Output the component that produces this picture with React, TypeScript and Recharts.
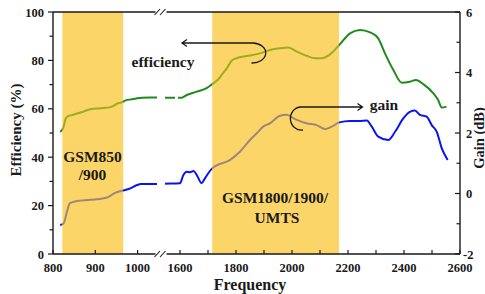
import { LineChart, Line, XAxis, YAxis, ReferenceArea } from 'recharts';

// measured efficiency (%) vs frequency (MHz)
const effFreq = [
  817, 824, 830, 836, 845, 871, 888, 912, 936, 944, 952, 962, 972, 985, 997, 1010, 1030, 1050,
  1540, 1606, 1624, 1660, 1695, 1715, 1737, 1752, 1767, 1785, 1802, 1838, 1874, 1886, 1921, 1957,
  1987, 2017, 2052, 2082, 2106, 2136, 2169, 2207, 2243, 2279, 2308, 2332, 2362, 2392, 2421, 2443,
  2469, 2505, 2522, 2535, 2552,
];
const effValues = [
  50.5, 52, 56, 57, 57.4, 58.8, 59.8, 60.2, 60.7, 61.3, 62.2, 62.6, 63.5, 63.9, 64.3, 64.6, 64.7, 64.7,
  64.6, 64.6, 65.7, 67.1, 68.5, 70.2, 72.2, 74.5, 76.7, 80.0, 80.9, 81.8, 82.6, 82.9, 84.3, 85.0,
  85.3, 83.6, 81.9, 80.9, 80.9, 82.5, 86.4, 91.2, 92.6, 91.6, 89.1, 82.9, 76.0, 70.8, 71.2, 71.9,
  70.2, 66.4, 63.6, 60.5, 60.9,
];

// measured gain (dB) vs frequency (MHz)
const gainFreq = [
  817, 825, 833, 840, 856, 888, 920, 931, 948, 963, 979, 999, 1007, 1050,
  1540, 1600, 1612, 1624, 1636, 1648, 1660, 1677, 1689, 1701, 1715, 1779, 1814, 1850, 1874, 1897,
  1921, 1957, 1981, 2011, 2052, 2088, 2118, 2142, 2169, 2207, 2243, 2267, 2285, 2308, 2344, 2368,
  2398, 2421, 2439, 2457, 2481, 2499, 2517, 2535, 2556,
];
const gainValues = [
  -1.04, -0.99, -0.6, -0.32, -0.25, -0.21, -0.16, -0.11, 0.03, 0.09, 0.15, 0.28, 0.31, 0.31,
  0.32, 0.34, 0.61, 0.72, 0.7, 0.74, 0.61, 0.34, 0.5, 0.67, 0.83, 1.11, 1.38, 1.77, 1.99, 2.21,
  2.32, 2.57, 2.6, 2.46, 2.32, 2.26, 2.13, 2.21, 2.35, 2.4, 2.4, 2.41, 2.21, 1.88, 1.77, 2.04,
  2.49, 2.7, 2.74, 2.6, 2.54, 2.26, 2.04, 1.49, 1.11,
];

const bandLow = [822, 966];
const bandHigh = [1715, 2168];

const effTicks = [0, 10, 20, 30, 40, 50, 60, 70, 80, 90, 100];
const gainTicks = [-2, -1, 0, 1, 2, 3, 4, 5, 6];
const freqTicks = [800, 900, 1000, 1600, 1700, 1800, 1900, 2000, 2100, 2200, 2300, 2400, 2500, 2600];
const freqLabels = [800, 900, 1000, 1600, 1800, 2000, 2200, 2400, 2600];

const PLOT_W = 407;
// broken axis: 800-1050 on the left piece, 1530-2600 on the right piece
const pos = (f: number) => (f < 1300 ? (f - 800) * 0.423 : 127 + (f - 1600) * 0.28);

const effData = effFreq.map((f, i) => ({ pos: pos(f), eff: effValues[i] }));
const gainData = gainFreq.map((f, i) => ({ pos: pos(f), gain: gainValues[i] }));

const FONT = "'Liberation Serif', 'Times New Roman', serif";
const INK = '#1a1a1a';
const BAND = '#FCD569';

const txt = { fontFamily: FONT, fontWeight: 700, fill: INK } as const;

const EffTick = (props: any) => {
  const { x, y, payload } = props;
  const major = payload.value % 20 === 0;
  return (
    <g>
      <line x1={x - (major ? 5 : 3.5)} x2={x} y1={y} y2={y} stroke={INK} strokeWidth={1.2} />
      {major && (
        <text x={x - 9} y={y} dy={4.5} textAnchor="end" fontSize={12.5} {...txt}>
          {payload.value}
        </text>
      )}
    </g>
  );
};

const GainTick = (props: any) => {
  const { x, y, payload } = props;
  const major = payload.value % 2 === 0;
  return (
    <g>
      <line x1={x - (major ? 5 : 3.5)} x2={x} y1={y} y2={y} stroke={INK} strokeWidth={1.2} />
      {major && (
        <text x={payload.value < 0 ? x + 3 : x + 6} y={y} dy={4.5} textAnchor="start" fontSize={12.5} {...txt}>
          {payload.value}
        </text>
      )}
    </g>
  );
};

const FreqTick = (props: any) => {
  const { x, y, payload } = props;
  const f = freqTicks.find((t) => Math.abs(pos(t) - payload.value) < 0.01);
  return (
    <g>
      <line x1={x} x2={x} y1={y - 4} y2={y} stroke={INK} strokeWidth={1.2} />
      {f !== undefined && freqLabels.includes(f) && (
        <text x={x} y={y + 18} textAnchor="middle" fontSize={12.5} {...txt}>
          {f}
        </text>
      )}
    </g>
  );
};

// stroke colour changes where the line runs under a band, with gaps at the axis break
const stops = (out: string, inside: string, gaps: number[][]) => {
  const o = (f: number) => pos(f) / PLOT_W;
  const s: [number, string, number][] = [
    [0, out, 1],
    [o(bandLow[0]), out, 1], [o(bandLow[0]), inside, 1],
    [o(bandLow[1]), inside, 1], [o(bandLow[1]), out, 1],
  ];
  gaps.forEach(([a, b]) => {
    s.push([a / PLOT_W, out, 1], [a / PLOT_W, out, 0], [b / PLOT_W, out, 0], [b / PLOT_W, out, 1]);
  });
  s.push(
    [o(bandHigh[0]), out, 1], [o(bandHigh[0]), inside, 1],
    [o(bandHigh[1]), inside, 1], [o(bandHigh[1]), out, 1],
    [1, out, 1],
  );
  return s.map(([off, c, op], i) => <stop key={i} offset={off} stopColor={c} stopOpacity={op} />);
};

export default function App() {
  return (
    <div style={{ position: 'absolute', left: 0, top: 0, width: 485, height: 294, background: '#fff' }}>
      <LineChart width={485} height={294} margin={{ top: 12, right: 0, bottom: 0, left: 0 }}>
        <defs>
          <linearGradient id="effStroke" gradientUnits="userSpaceOnUse" x1={53} x2={460} y1={0} y2={0}>
            {stops('#22891d', '#9cad1f', [[104.5, 112], [122, 124.5]])}
          </linearGradient>
          <linearGradient id="gainStroke" gradientUnits="userSpaceOnUse" x1={53} x2={460} y1={0} y2={0}>
            {stops('#0a14f0', '#a08676', [[104.5, 112]])}
          </linearGradient>
        </defs>
        <XAxis
          type="number"
          dataKey="pos"
          domain={[0, PLOT_W]}
          ticks={freqTicks.map(pos)}
          interval={0}
          height={40}
          axisLine={false}
          tickLine={false}
          tickSize={0}
          tickMargin={0}
          tick={<FreqTick />}
        />
        <YAxis
          yAxisId="eff"
          domain={[0, 100]}
          ticks={effTicks}
          interval={0}
          width={53}
          axisLine={{ stroke: INK, strokeWidth: 1.4 }}
          tickLine={false}
          tickSize={0}
          tickMargin={0}
          tick={<EffTick />}
        />
        <YAxis
          yAxisId="gain"
          orientation="right"
          domain={[-2, 6]}
          ticks={gainTicks}
          interval={0}
          width={25}
          axisLine={{ stroke: INK, strokeWidth: 1.4 }}
          tickLine={false}
          tickSize={0}
          tickMargin={0}
          tick={<GainTick />}
        />
        <ReferenceArea yAxisId="eff" x1={pos(bandLow[0])} x2={pos(bandLow[1])} y1={0} y2={100} fill={BAND} fillOpacity={1} stroke="none" />
        <ReferenceArea yAxisId="eff" x1={pos(bandHigh[0])} x2={pos(bandHigh[1])} y1={0} y2={100} fill={BAND} fillOpacity={1} stroke="none" />
        <Line
          yAxisId="eff"
          data={effData}
          dataKey="eff"
          type="monotone"
          stroke="url(#effStroke)"
          strokeWidth={2}
          dot={false}
          isAnimationActive={false}
        />
        <Line
          yAxisId="gain"
          data={gainData}
          dataKey="gain"
          type="monotone"
          stroke="url(#gainStroke)"
          strokeWidth={2}
          dot={false}
          isAnimationActive={false}
        />
      </LineChart>

      {/* frame with axis break marks, annotations and titles */}
      <svg width={485} height={294} style={{ position: 'absolute', left: 0, top: 0, pointerEvents: 'none' }}>
        <g stroke={INK} strokeWidth={1.4} fill="none">
          <path d="M53 12 H155.5 M166.5 12 H460" />
          <path d="M53 254 H155.5 M166.5 254 H460" />
          <path d="M154.5 15 L160 9 M160 15 L165.5 9" strokeWidth={1.1} />
          <path d="M154.5 257 L160 251 M160 257 L165.5 251" strokeWidth={1.1} />
        </g>
        <g stroke={INK} strokeWidth={1.3} fill="none">
          <path d="M253 43 H182 M187 39.5 L182 43 L187 46.5" />
          <path d="M253 43 A 13.5 10 0 0 1 251.5 63" />
          <path d="M300 107 H362.5 M357.5 103.5 L362.5 107 L357.5 110.5" />
          <path d="M300 107 A 11 11.5 0 0 0 303 130" />
        </g>
        <text x={163} y={66.5} textAnchor="middle" fontSize={15.5} {...txt}>efficiency</text>
        <text x={384} y={110} textAnchor="middle" fontSize={15.5} {...txt}>gain</text>
        <text x={92.5} y={162} textAnchor="middle" fontSize={15.5} {...txt}>GSM850</text>
        <text x={92.5} y={180} textAnchor="middle" fontSize={15.5} {...txt}>/900</text>
        <text x={275} y={203} textAnchor="middle" fontSize={15.5} {...txt}>GSM1800/1900/</text>
        <text x={277} y={222.5} textAnchor="middle" fontSize={15.5} {...txt}>UMTS</text>
        <text x={250} y={290} textAnchor="middle" fontSize={16} {...txt}>Frequency</text>
        <text
          x={16}
          y={130}
          textAnchor="middle"
          dominantBaseline="central"
          fontSize={15}
          transform="rotate(-90 16 130)"
          {...txt}
        >
          Efficiency (%)
        </text>
        <text
          x={478.5}
          y={138}
          textAnchor="middle"
          dominantBaseline="central"
          fontSize={14.5}
          transform="rotate(-90 478.5 138)"
          {...txt}
        >
          Gain (dB)
        </text>
      </svg>
    </div>
  );
}
